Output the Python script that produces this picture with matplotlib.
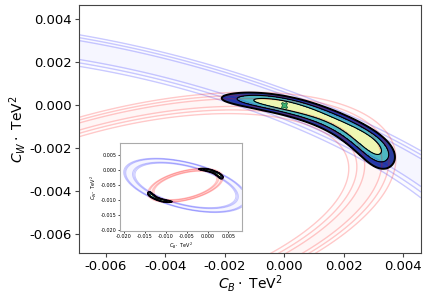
import numpy as np
import matplotlib.pyplot as plt

# common centre of the two rings (C_B, C_W)
centre = [-0.0053, -0.0051]
# quadratic forms a*dx^2 + 2*b*dx*dy + c*dy^2 (= 1 on the ring centre line)
blue_abc = [7153.0, 5626.0, 19029.0]
red_abc = [18336.0, -13310.0, 46309.0]
# offset of the three contour lines on each side of a ring
blue_dq = [0.12, 0.16, 0.20]
red_dq = [0.07, 0.13, 0.19]
# combined fit: widths of the two terms and the chi2 levels
fit_sigma = [0.057, 0.053]
fit_levels = [2.30, 6.18, 11.83]
fit_colors = ['#eef7b2', '#4db8c2', '#2a3d9e']
best_fit = [0.0, 0.0]

main_xlim = [-0.0069, 0.0046]
main_ylim = [-0.0069, 0.00465]
main_ticks = [-0.006, -0.004, -0.002, 0.000, 0.002, 0.004]
inset_xlim = [-0.021, 0.0082]
inset_ylim = [-0.0203, 0.009]
inset_ticks = [-0.020, -0.015, -0.010, -0.005, 0.000, 0.005]


def ring(abc, X, Y):
    dx = X - centre[0]
    dy = Y - centre[1]
    a, b, c = abc
    return a*dx**2 + 2*b*dx*dy + c*dy**2 - 1.0


def draw(ax, xlim, ylim, lw, n=700):
    x = np.linspace(xlim[0], xlim[1], n)
    y = np.linspace(ylim[0], ylim[1], n)
    X, Y = np.meshgrid(x, y)
    tb = ring(blue_abc, X, Y)
    tr = ring(red_abc, X, Y)
    for t, dq, col in [(tb, blue_dq, 'blue'), (tr, red_dq, 'red')]:
        for d in dq:
            ax.contourf(X, Y, np.abs(t), levels=[0, d], colors=[col], alpha=0.012)
        lev = sorted([-d for d in dq] + dq)
        ax.contour(X, Y, t, levels=lev, colors=[col], alpha=0.2,
                   linewidths=lw, linestyles='solid')
    chi2 = (tb/fit_sigma[0])**2 + (tr/fit_sigma[1])**2
    ax.contourf(X, Y, chi2, levels=[0] + fit_levels, colors=fit_colors)
    ax.contour(X, Y, chi2, levels=fit_levels, colors='black',
               linewidths=[lw*0.8, lw*0.8, lw*1.4], linestyles='solid')
    ax.set_xlim(xlim)
    ax.set_ylim(ylim)


fig = plt.figure(figsize=(4.28, 2.96), dpi=100)

ax = fig.add_axes([0.1846, 0.1436, 0.799, 0.8395])
draw(ax, main_xlim, main_ylim, 1.0)
ax.plot(best_fit[0], best_fit[1], 'X', color='#3cb371', mec='#1d5e3a', ms=5, mew=0.6)
ax.set_xticks(main_ticks)
ax.set_yticks(main_ticks)
ax.set_xticklabels(['%.3f' % v for v in main_ticks])
ax.set_yticklabels(['%.3f' % v for v in main_ticks])
ax.tick_params(labelsize=9.5, length=3, pad=2, color='#444444')
for s in ax.spines.values():
    s.set_color('#444444')
ax.set_xlabel(r'$C_B\cdot$ TeV$^2$', fontsize=10, labelpad=0)
ax.set_ylabel(r'$C_W\cdot$ TeV$^2$', fontsize=10, labelpad=1)

ins = fig.add_axes([0.280, 0.2196, 0.285, 0.297])
draw(ins, inset_xlim, inset_ylim, 0.7)
ins.set_xticks(inset_ticks)
ins.set_yticks(inset_ticks)
ins.set_xticklabels(['%.3f' % v for v in inset_ticks])
ins.set_yticklabels(['%.3f' % v for v in inset_ticks])
ins.tick_params(labelsize=3.5, length=1.5, width=0.5, pad=1)
for s in ins.spines.values():
    s.set_color('#aaaaaa')
ins.set_xlabel(r'$C_B\cdot$ TeV$^2$', fontsize=3.5, labelpad=1)
ins.set_ylabel(r'$C_W\cdot$ TeV$^2$', fontsize=3.5, labelpad=1)

fig.savefig('out.png', dpi=100)
